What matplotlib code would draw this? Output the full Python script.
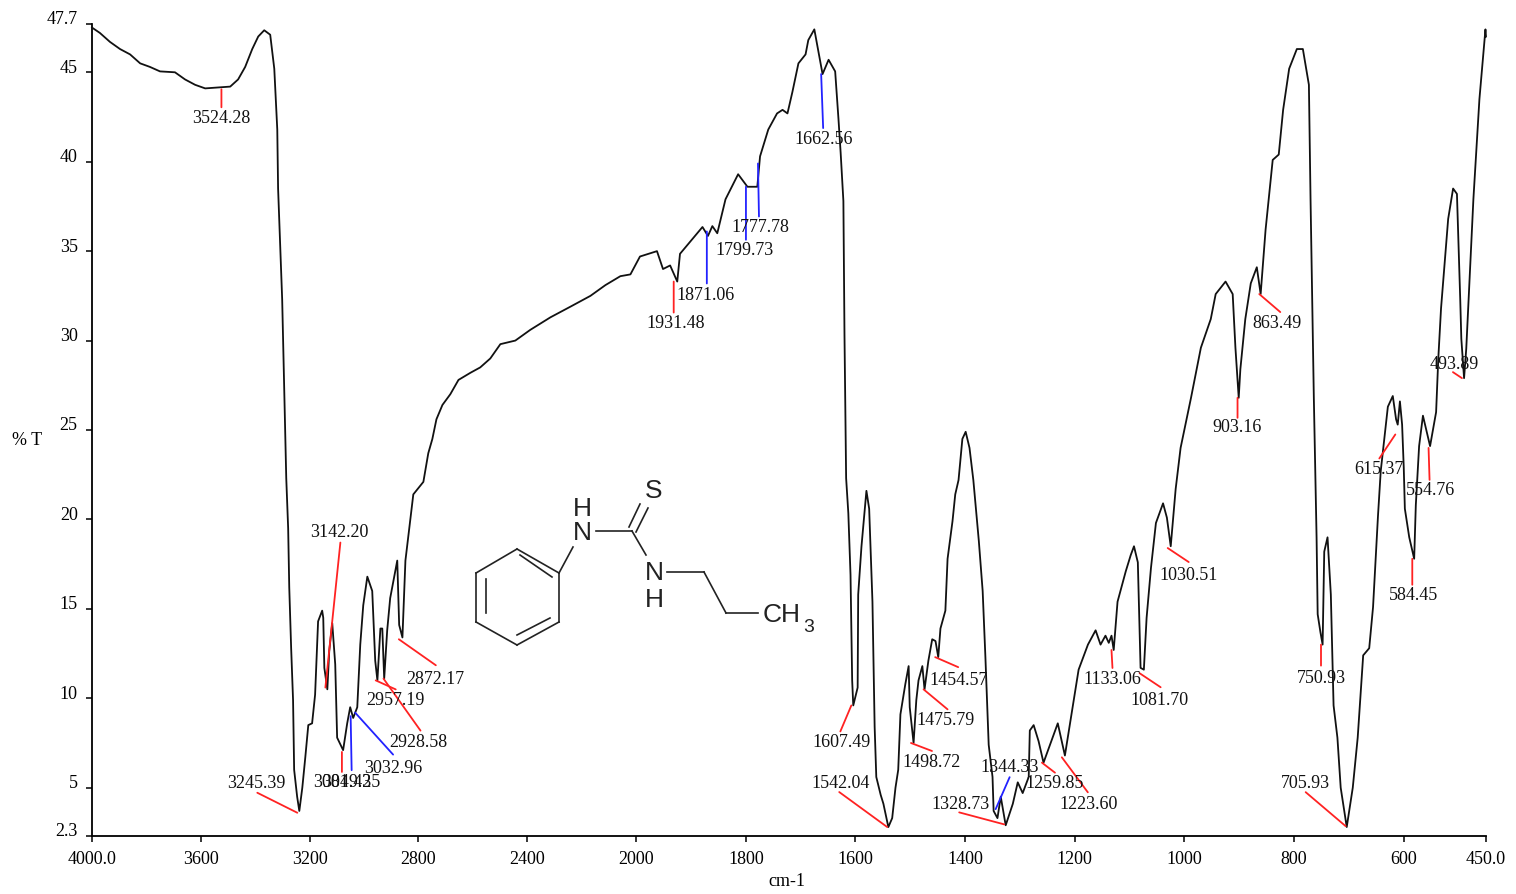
import numpy as np
import matplotlib
matplotlib.use("Agg")
import matplotlib.pyplot as plt
from matplotlib.transforms import ScaledTranslation

plt.rcParams['font.family'] = ['Liberation Serif', 'DejaVu Serif']

# spectrum
wn = [4000, 3971, 3934, 3897, 3860, 3823, 3787, 3750, 3695, 3658, 3621, 3584, 3492, 3463, 3437, 3411,
      3389, 3367, 3345, 3330, 3319, 3316, 3301, 3290, 3286, 3279, 3275, 3268, 3261, 3257, 3246, 3238,
      3227, 3216, 3205, 3191, 3180, 3169, 3154, 3150, 3146, 3135, 3128, 3117, 3106, 3099, 3077, 3062,
      3051, 3040, 3025, 3014, 3003, 2988, 2970, 2959, 2951, 2940, 2933, 2926, 2915, 2904, 2878, 2871,
      2859, 2848, 2837, 2819, 2782, 2764, 2749, 2734, 2712, 2683, 2653, 2609, 2573, 2536, 2499, 2444,
      2389, 2315, 2241, 2168, 2113, 2058, 2021, 1993, 1962, 1951, 1938, 1925, 1920, 1879, 1869, 1861,
      1852, 1837, 1814, 1797, 1779, 1774, 1759, 1743, 1733, 1724, 1715, 1704, 1691, 1686, 1675, 1660,
      1649, 1637, 1631, 1627, 1622, 1620, 1617, 1613, 1609, 1606, 1604, 1596, 1595, 1589, 1580, 1575,
      1569, 1565, 1562, 1554, 1549, 1540, 1533, 1527, 1522, 1518, 1509, 1503, 1501, 1494, 1489, 1485,
      1478, 1474, 1467, 1460, 1454, 1449, 1445, 1436, 1432, 1423, 1418, 1412, 1405, 1399, 1392, 1385,
      1375, 1368, 1363, 1357, 1350, 1348, 1341, 1335, 1326, 1313, 1304, 1295, 1284, 1282, 1275, 1266,
      1257, 1231, 1218, 1204, 1193, 1176, 1162, 1153, 1144, 1138, 1133, 1129, 1122, 1107, 1098, 1092,
      1085, 1080, 1074, 1069, 1061, 1052, 1039, 1032, 1025, 1016, 1007, 988, 970, 952, 943, 925,
      912, 907, 901, 898, 889, 879, 868, 861, 852, 839, 828, 820, 809, 795, 784, 773,
      770, 764, 759, 757, 752, 748, 745, 739, 733, 728, 721, 715, 704, 693, 684, 674,
      663, 656, 647, 642, 632, 629, 620, 614, 611, 607, 603, 600, 598, 590, 581, 578,
      572, 565, 552, 541, 537, 532, 519, 510, 503, 497, 495, 490, 486, 473, 462, 451, 450]
T = [47.5, 47.2, 46.7, 46.3, 46.0, 45.5, 45.3, 45.05, 45.0, 44.6, 44.3, 44.1, 44.2, 44.6, 45.3, 46.3,
     47.0, 47.35, 47.1, 45.2, 41.8, 38.5, 32.3, 25.1, 22.3, 19.5, 16.2, 12.8, 9.9, 6.0, 4.5, 3.7,
     5.0, 6.7, 8.5, 8.6, 10.2, 14.3, 14.9, 14.5, 11.7, 10.5, 12.65, 14.2, 11.9, 7.8, 7.1, 8.6,
     9.5, 8.9, 9.5, 13.0, 15.2, 16.8, 16.0, 12.1, 11.0, 13.9, 13.9, 11.1, 13.8, 15.6, 17.7, 14.1,
     13.4, 17.7, 19.1, 21.4, 22.1, 23.7, 24.5, 25.6, 26.4, 27.0, 27.8, 28.2, 28.5, 29.0, 29.8, 30.0,
     30.6, 31.3, 31.9, 32.5, 33.1, 33.6, 33.7, 34.7, 35.0, 34.0, 34.2, 33.3, 34.85, 36.35, 35.85, 36.4,
     36.0, 37.9, 39.3, 38.6, 38.6, 40.3, 41.8, 42.7, 42.9, 42.7, 43.9, 45.5, 46.0, 46.8, 47.4, 44.9,
     45.7, 45.05, 42.4, 40.5, 37.8, 30.3, 22.3, 20.35, 16.9, 11.0, 9.6, 10.6, 15.8, 18.5, 21.6, 20.6,
     15.4, 8.4, 5.6, 4.6, 4.1, 2.8, 3.3, 5.0, 6.0, 9.1, 10.8, 11.8, 9.5, 7.5, 9.9, 11.0,
     11.8, 10.5, 12.1, 13.3, 13.2, 12.3, 13.9, 14.9, 17.8, 19.9, 21.4, 22.2, 24.5, 24.9, 24.0, 22.2,
     18.8, 16.0, 12.3, 7.4, 5.6, 3.7, 3.3, 4.5, 2.9, 4.1, 5.3, 4.7, 5.6, 8.2, 8.5, 7.6,
     6.4, 8.6, 6.8, 9.5, 11.6, 13.0, 13.8, 13.0, 13.5, 13.1, 13.5, 12.7, 15.4, 17.1, 18.0, 18.5,
     17.6, 11.7, 11.6, 14.5, 17.3, 19.8, 20.9, 20.1, 18.5, 21.7, 24.0, 26.8, 29.6, 31.2, 32.6, 33.3,
     32.6, 29.6, 26.8, 28.4, 31.2, 33.2, 34.1, 32.6, 36.2, 40.1, 40.4, 42.9, 45.2, 46.3, 46.3, 44.3,
     37.9, 26.8, 19.0, 14.7, 13.7, 13.0, 18.2, 19.0, 15.8, 9.6, 7.8, 5.0, 2.8, 5.0, 7.8, 12.4,
     12.8, 15.1, 20.2, 22.7, 25.5, 26.3, 26.9, 25.6, 25.3, 26.6, 25.3, 22.9, 20.6, 19.0, 17.8, 20.8,
     24.1, 25.8, 24.1, 26.0, 29.0, 31.8, 36.8, 38.5, 38.2, 32.3, 30.1, 27.9, 29.55, 37.9, 43.5, 47.4, 47.0]

# picked peaks
peak_labels = ['3524.28', '3245.39', '3142.20', '3081.42', '3049.35', '3032.96', '2957.19', '2928.58',
               '2872.17', '1931.48', '1871.06', '1799.73', '1777.78', '1662.56', '1607.49', '1542.04',
               '1498.72', '1475.79', '1454.57', '1344.33', '1328.73', '1259.85', '1223.60', '1133.06',
               '1081.70', '1030.51', '903.16', '863.49', '750.93', '705.93', '615.37', '584.45',
               '554.76', '493.89']
peak_T = [44.05, 3.6, 10.6, 7.0, 9.0, 9.2, 11.0, 11.1, 13.3, 33.3, 36.1, 38.6, 39.9, 44.9, 9.6, 2.8,
          7.5, 10.5, 12.3, 3.8, 2.95, 6.4, 6.7, 12.7, 11.4, 18.4, 26.8, 32.6, 13.0, 2.85, 24.75, 17.8,
          24.0, 27.9]
blue_peaks = ['3049.35', '3032.96', '1871.06', '1799.73', '1777.78', '1662.56', '1344.33']

# leader end and label centre, in pixels from the peak
leader_off = [(0, -18), (-40, 20), (15, 145), (0, -20), (1, -54), (38, -42), (20, -9), (37, -52),
              (37, -26), (0, -31), (0, -52), (0, -53), (1, -53), (2, -54), (-11, -26), (-48, 35),
              (21, -8), (24, -20), (23, -10), (14, 32), (-45, 12), (13, -10), (26, -35), (1, -18),
              (21, -14), (21, -14), (0, -20), (21, -18), (0, -21), (-40, 34), (-16, -24), (0, -26),
              (1, -32), (-9, 6)]
text_off = [(0, -28), (-41, 30), (14, 156), (0, -30), (1, -65), (38, -55), (20, -19), (35, -63),
            (36, -39), (2, -41), (-1, -63), (-1, -63), (2, -63), (3, -64), (-10, -36), (-47, 45),
            (21, -19), (22, -30), (23, -22), (14, 43), (-44, 21), (13, -20), (27, -46), (1, -29),
            (20, -26), (21, -26), (0, -29), (18, -28), (0, -33), (-40, 44), (-16, -34), (1, -36),
            (2, -42), (-8, 15)]

x_ticks = [4000, 3600, 3200, 2800, 2400, 2000, 1800, 1600, 1400, 1200, 1000, 800, 600, 450]
x_tick_labels = ['4000.0', '3600', '3200', '2800', '2400', '2000', '1800', '1600', '1400', '1200',
                 '1000', '800', '600', '450.0']
y_ticks = [2.3, 5, 10, 15, 20, 25, 30, 35, 40, 45, 47.7]
y_tick_labels = ['2.3', '5', '10', '15', '20', '25', '30', '35', '40', '45', '47.7']

# molecule, in picture pixels
bonds = [((517, 550), (559, 574)), ((559, 574), (559, 623)), ((559, 623), (517, 646)),
         ((517, 646), (476, 623)), ((476, 623), (476, 574)), ((476, 574), (517, 550)),
         ((520, 556), (552, 578)), ((486, 580), (486, 614)), ((517, 636), (550, 619)),
         ((559, 574), (573, 548)), ((596, 532), (632, 532)), ((632, 532), (646, 556)),
         ((629, 528), (640, 505)), ((636, 533), (648, 509)), ((667, 573), (704, 573)),
         ((704, 573), (726, 614)), ((726, 614), (758, 614))]


# the x axis doubles its scale below 2000
def fwd(w):
    w = np.asarray(w, dtype=float)
    return np.where(w > 2000, 2000 + (w - 2000) * 0.4962, w)


def inv(v):
    v = np.asarray(v, dtype=float)
    return np.where(v > 2000, 2000 + (v - 2000) / 0.4962, v)


W, H = 1516, 895
fig = plt.figure(figsize=(W / 100, H / 100), dpi=100)
ax = fig.add_axes([92 / W, (H - 837) / H, (1486 - 92) / W, (837 - 25) / H])
ax.set_xscale('function', functions=(fwd, inv))
ax.set_xlim(4000, 450)
ax.set_ylim(2.3, 47.7)

ax.plot(wn, T, color='#111111', lw=1.3, clip_on=False, zorder=3)

for name, y, lo, to in zip(peak_labels, peak_T, leader_off, text_off):
    x = float(name)
    col = '#2222ff' if name in blue_peaks else '#ff2222'
    ax.annotate('', xy=(x, y), xytext=lo, textcoords='offset pixels',
                arrowprops=dict(arrowstyle='-', color=col, lw=1.3, shrinkA=0, shrinkB=0), zorder=4)
    ax.annotate(name, xy=(x, y), xytext=to, textcoords='offset pixels', ha='center', va='center',
                fontsize=13, color='#111111', zorder=5)

ax.spines['top'].set_visible(False)
ax.spines['right'].set_visible(False)
ax.spines['left'].set_linewidth(1.3)
ax.spines['bottom'].set_linewidth(1.3)
ax.set_xticks(x_ticks)
ax.set_xticklabels(x_tick_labels)
ax.set_yticks(y_ticks)
ax.set_yticklabels(y_tick_labels)
ax.minorticks_off()
ax.tick_params(axis='x', length=4, width=1.1, pad=6, labelsize=13)
ax.tick_params(axis='y', length=4.3, width=1.1, pad=6, labelsize=13)

# y labels sit a little above their ticks
for lab in ax.get_yticklabels():
    lab.set_transform(lab.get_transform() + ScaledTranslation(0, 0.07, fig.dpi_scale_trans))

fig.text(27 / W, 1 - 441 / H, '% T', fontsize=13, ha='center', va='center')
fig.text(787 / W, 1 - 882 / H, 'cm-1', fontsize=13, ha='center', va='center')

over = fig.add_axes([0, 0, 1, 1])
over.set_xlim(0, W)
over.set_ylim(H, 0)
over.axis('off')
over.patch.set_alpha(0)
for a, b in bonds:
    over.plot([a[0], b[0]], [a[1], b[1]], color='#222222', lw=1.2)
for s, px, py in [('H', 582, 509), ('N', 582, 533), ('S', 654, 491), ('N', 654, 573), ('H', 654, 600)]:
    over.text(px, py, s, family='Liberation Sans', fontsize=19, ha='center', va='center', color='#222222')
over.text(763, 615, 'CH', family='Liberation Sans', fontsize=19, ha='left', va='center', color='#222222')
over.text(809, 628, '3', family='Liberation Sans', fontsize=14, ha='center', va='center', color='#222222')

fig.savefig('out.png', dpi=100)
